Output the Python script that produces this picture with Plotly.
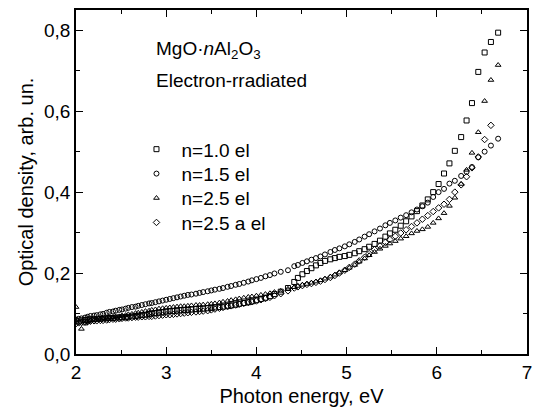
import plotly.graph_objects as go

energy = [2.00, 2.03, 2.06, 2.10, 2.13, 2.16, 2.20, 2.23, 2.27, 2.30,
          2.34, 2.37, 2.41, 2.44, 2.48, 2.51, 2.55, 2.58, 2.62, 2.66,
          2.69, 2.73, 2.77, 2.81, 2.84, 2.88, 2.92, 2.96, 3.00, 3.04,
          3.08, 3.12, 3.16, 3.20, 3.24, 3.28, 3.33, 3.37, 3.41, 3.46,
          3.50, 3.54, 3.59, 3.63, 3.68, 3.72, 3.77, 3.81, 3.86, 3.91,
          3.95, 4.00, 4.05, 4.10, 4.15, 4.20, 4.27, 4.35, 4.42, 4.46,
          4.51, 4.56, 4.61, 4.66, 4.71, 4.76, 4.82, 4.87, 4.92, 4.98,
          5.03, 5.09, 5.14, 5.20, 5.25, 5.31, 5.37, 5.43, 5.48, 5.54,
          5.60, 5.66, 5.72, 5.78, 5.84, 5.90, 5.96, 6.02, 6.08, 6.14,
          6.20, 6.27, 6.33, 6.39, 6.46, 6.53, 6.60, 6.68]

od_n10 = [0.082, 0.080, 0.083, 0.084, 0.085, 0.086, 0.086, 0.087, 0.087, 0.088,
          0.088, 0.089, 0.089, 0.090, 0.090, 0.091, 0.091, 0.092, 0.093, 0.094,
          0.095, 0.096, 0.097, 0.099, 0.100, 0.101, 0.102, 0.103, 0.105, 0.106,
          0.106, 0.107, 0.108, 0.109, 0.109, 0.110, 0.111, 0.112, 0.112, 0.113,
          0.114, 0.115, 0.116, 0.117, 0.119, 0.120, 0.122, 0.124, 0.126, 0.128,
          0.130, 0.133, 0.136, 0.139, 0.143, 0.148, 0.154, 0.163, 0.178, 0.188,
          0.197, 0.205, 0.212, 0.219, 0.225, 0.230, 0.234, 0.237, 0.240, 0.242,
          0.245, 0.249, 0.254, 0.259, 0.265, 0.272, 0.280, 0.290, 0.298, 0.307,
          0.317, 0.328, 0.340, 0.353, 0.367, 0.382, 0.400, 0.420, 0.446, 0.471,
          0.502, 0.536, 0.577, 0.620, 0.697, 0.745, 0.771, 0.794]

od_n15 = [0.085, 0.087, 0.088, 0.090, 0.092, 0.094, 0.095, 0.096, 0.098, 0.099,
          0.102, 0.104, 0.105, 0.107, 0.109, 0.110, 0.112, 0.114, 0.116, 0.117,
          0.119, 0.121, 0.123, 0.125, 0.126, 0.128, 0.130, 0.132, 0.134, 0.136,
          0.138, 0.140, 0.142, 0.144, 0.146, 0.147, 0.149, 0.151, 0.153, 0.155,
          0.157, 0.159, 0.161, 0.163, 0.166, 0.168, 0.171, 0.173, 0.176, 0.179,
          0.182, 0.185, 0.188, 0.192, 0.195, 0.199, 0.203, 0.207, 0.217, 0.220,
          0.225, 0.229, 0.233, 0.237, 0.241, 0.246, 0.252, 0.257, 0.261, 0.266,
          0.271, 0.277, 0.283, 0.290, 0.296, 0.303, 0.310, 0.318, 0.324, 0.330,
          0.337, 0.343, 0.350, 0.357, 0.365, 0.374, 0.388, 0.400, 0.408, 0.421,
          0.428, 0.440, 0.450, 0.462, 0.486, 0.500, 0.515, 0.532]

od_n25 = [0.116, None, 0.062, 0.075, 0.079, 0.082, 0.084, 0.085, 0.087, 0.088,
          0.089, 0.090, 0.091, 0.092, 0.093, 0.095, 0.096, 0.098, 0.099, 0.101,
          0.102, 0.104, 0.106, 0.107, 0.109, 0.110, 0.112, 0.113, 0.114, 0.115,
          0.116, 0.117, 0.118, 0.118, 0.119, 0.120, 0.121, 0.121, 0.122, 0.123,
          0.124, 0.125, 0.127, 0.129, 0.131, 0.133, 0.135, 0.137, 0.139, 0.141,
          0.142, 0.144, 0.146, 0.148, 0.150, 0.153, 0.156, 0.161, 0.165, 0.168,
          0.171, 0.173, 0.176, 0.179, 0.182, 0.186, 0.191, 0.196, 0.201, 0.207,
          0.213, 0.220, 0.228, 0.236, 0.244, 0.252, 0.260, 0.267, 0.273, 0.279,
          0.285, 0.291, 0.298, 0.304, 0.308, 0.314, 0.324, 0.335, 0.348, 0.366,
          0.386, 0.420, 0.455, 0.497, 0.548, 0.625, 0.677, 0.714]

od_n25a = [0.075, 0.077, 0.078, 0.079, 0.080, 0.081, 0.082, 0.082, 0.083, 0.083,
           0.084, 0.085, 0.086, 0.086, 0.087, 0.088, 0.089, 0.089, 0.090, 0.091,
           0.091, 0.092, 0.092, 0.093, 0.093, 0.094, 0.095, 0.096, 0.097, 0.097,
           0.098, 0.099, 0.100, 0.101, 0.102, 0.103, 0.104, 0.105, 0.106, 0.107,
           0.109, 0.111, 0.113, 0.115, 0.117, 0.119, 0.121, 0.123, 0.125, 0.127,
           0.129, 0.131, 0.134, 0.137, 0.140, 0.144, 0.149, 0.156, 0.163, 0.166,
           0.169, 0.172, 0.174, 0.177, 0.180, 0.184, 0.189, 0.194, 0.200, 0.207,
           0.214, 0.222, 0.230, 0.239, 0.248, 0.258, 0.267, 0.276, 0.283, 0.291,
           0.299, 0.307, 0.315, 0.324, 0.333, 0.342, 0.352, 0.361, 0.370, 0.382,
           0.400, 0.418, 0.438, 0.460, 0.487, 0.530, 0.565, None]

series_names = ["n=1.0 el", "n=1.5 el", "n=2.5 el", "n=2.5 a el"]
series_values = [od_n10, od_n15, od_n25, od_n25a]
symbols = ["square-open", "circle-open", "triangle-up-open", "diamond-open"]
legend_ids = ["legend", "legend2", "legend3", "legend4"]
legend_rows_y = [0.595, 0.524, 0.453, 0.382]

x_tick_vals = [2, 3, 4, 5, 6, 7]
x_tick_text = ["2", "3", "4", "5", "6", "7"]
y_tick_vals = [0.0, 0.2, 0.4, 0.6, 0.8]
y_tick_text = ["0,0", "0,2", "0,4", "0,6", "0,8"]

FONT = "Arial, Liberation Sans, Helvetica, sans-serif"

fig = go.Figure()
for name, vals, sym, lid in zip(series_names, series_values, symbols, legend_ids):
    fig.add_trace(go.Scatter(
        x=energy, y=vals, mode="markers", name=name, legend=lid,
        marker=dict(symbol=sym, size=5, color="black", line=dict(width=1, color="black")),
    ))

axis_common = dict(
    showgrid=False, zeroline=False, showline=True, linecolor="black", linewidth=1.5,
    mirror="ticks", ticks="inside", ticklen=7, tickwidth=1.2, tickcolor="black",
    tickfont=dict(family=FONT, size=19, color="black"),
)

legend_style = dict(x=0.123, xanchor="left", yanchor="middle", bgcolor="rgba(0,0,0,0)",
                    borderwidth=0, itemwidth=40, font=dict(family=FONT, size=19, color="black"))

fig.update_layout(
    width=538, height=410,
    margin=dict(l=76, r=6, t=10, b=52),
    paper_bgcolor="white", plot_bgcolor="white",
    font=dict(family=FONT, size=19, color="black"),
    xaxis=dict(range=[2, 7], tickvals=x_tick_vals, ticktext=x_tick_text,
               minor=dict(dtick=0.5, tick0=2, ticks="inside", ticklen=4, tickcolor="black", tickwidth=1.2),
               title=dict(text="Photon energy, eV", font=dict(family=FONT, size=20), standoff=7),
               **axis_common),
    yaxis=dict(range=[0, 0.85], tickvals=y_tick_vals, ticktext=y_tick_text,
               minor=dict(dtick=0.1, tick0=0, ticks="inside", ticklen=4, tickcolor="black", tickwidth=1.2),
               title=dict(text="Optical density, arb. un.", font=dict(family=FONT, size=20), standoff=5),
               **axis_common),
    legend=dict(y=legend_rows_y[0], **legend_style),
    legend2=dict(y=legend_rows_y[1], **legend_style),
    legend3=dict(y=legend_rows_y[2], **legend_style),
    legend4=dict(y=legend_rows_y[3], **legend_style),
    showlegend=True,
)

fig.add_annotation(xref="paper", yref="paper", x=0.172, y=0.884, xanchor="left", yanchor="middle",
                   text="MgO·<i>n</i>Al<sub>2</sub>O<sub>3</sub>", showarrow=False,
                   font=dict(family=FONT, size=19, color="black"))
fig.add_annotation(xref="paper", yref="paper", x=0.172, y=0.795, xanchor="left", yanchor="middle",
                   text="Electron-rradiated", showarrow=False,
                   font=dict(family=FONT, size=19, color="black"))

fig.write_html("out.html", config={"displayModeBar": False},
               post_script="document.body.style.margin='0';")
